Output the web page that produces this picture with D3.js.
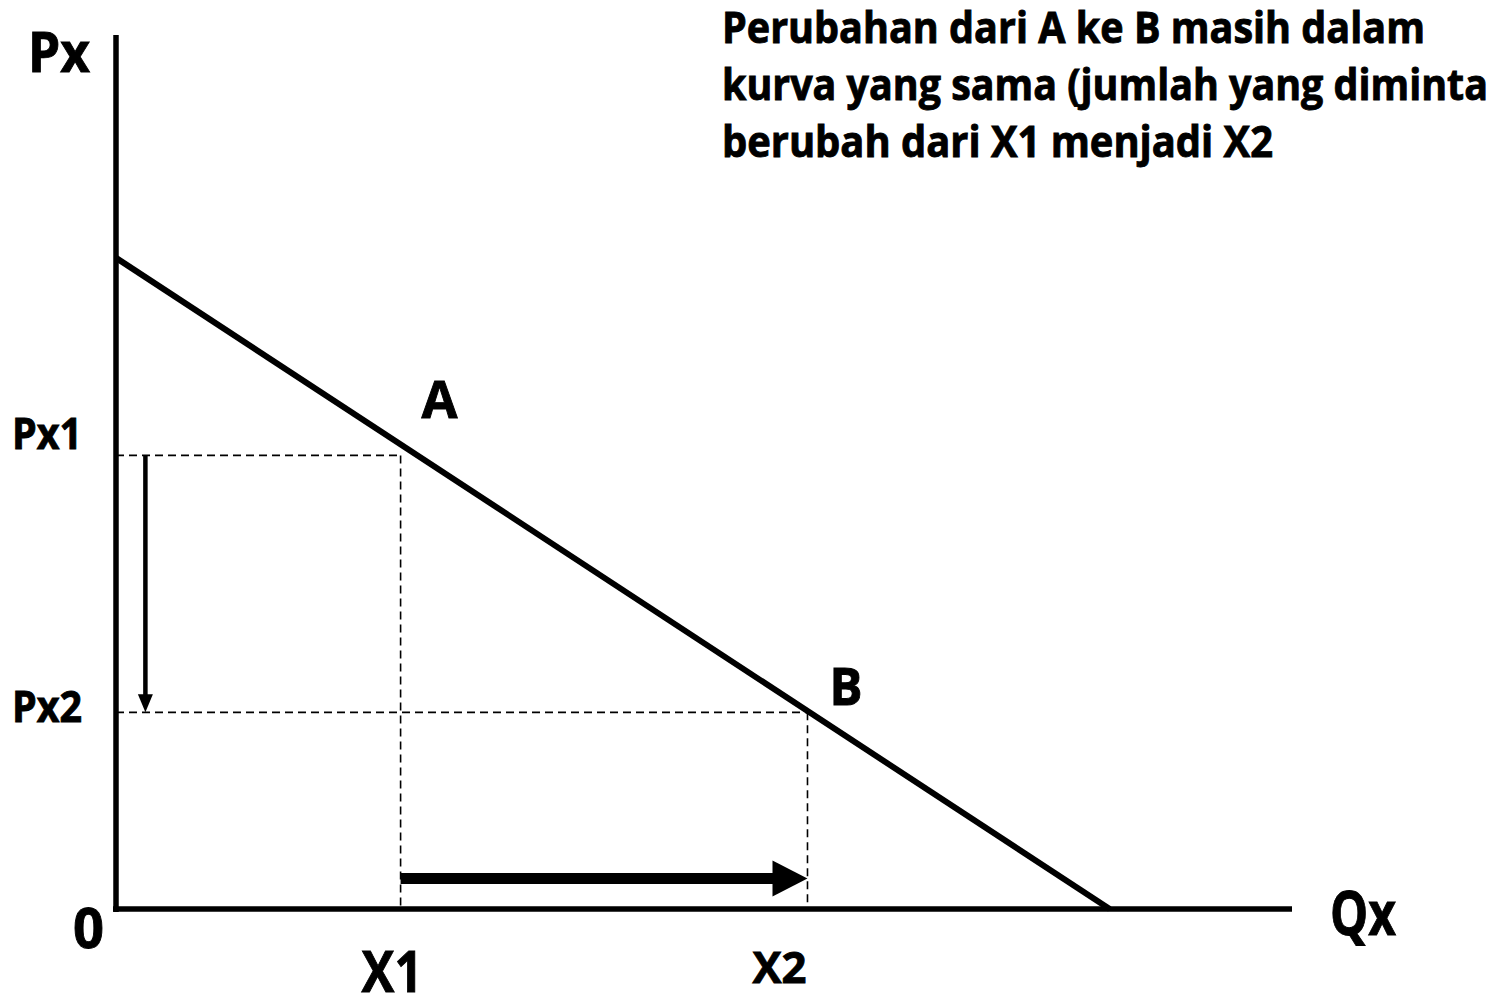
<!DOCTYPE html>
<html>
<head>
<meta charset="utf-8">
<script src="https://cdn.jsdelivr.net/npm/d3@7"></script>
<style>
  body { margin: 0; background: #fff; }
  svg text { font-family: "Open Sans", "Liberation Sans", sans-serif; font-weight: bold; fill: #000; stroke: #000; stroke-width: 0.9px; }
</style>
</head>
<body>
<div id="chart"></div>
<script>
// demand curve end points (q, p) in chart units
const demandQ = [0, 84.5];
const demandP = [74.5, 0];

// the two points on the curve
const pointNames = ["A", "B"];
const qValues = [24.2, 58.8];
const pValues = [51.9, 22.5];
const qLabels = ["X1", "X2"];
const pLabels = ["Px1", "Px2"];

const noteLines = [
  "Perubahan dari A ke B masih dalam",
  "kurva yang sama (jumlah yang diminta",
  "berubah dari X1 menjadi X2"
];

const width = 1497, height = 996;

const svg = d3.select("#chart").append("svg")
  .attr("width", width)
  .attr("height", height);

const x = d3.scaleLinear().domain([0, 100]).range([116, 1292]);
const y = d3.scaleLinear().domain([0, 100]).range([909, 35]);

// dashed guide lines
qValues.forEach(function(q, i) {
  svg.append("line")
    .attr("x1", x(0)).attr("x2", x(q))
    .attr("y1", y(pValues[i])).attr("y2", y(pValues[i]))
    .attr("stroke", "#000").attr("stroke-width", 1.6)
    .attr("stroke-dasharray", "8,5");
  svg.append("line")
    .attr("x1", x(q)).attr("x2", x(q))
    .attr("y1", y(pValues[i])).attr("y2", y(0))
    .attr("stroke", "#000").attr("stroke-width", 1.6)
    .attr("stroke-dasharray", "8,5");
});

// axes
svg.append("line")
  .attr("x1", x(0)).attr("x2", x(0))
  .attr("y1", y(100)).attr("y2", y(0) + 3)
  .attr("stroke", "#000").attr("stroke-width", 5.5);
svg.append("line")
  .attr("x1", x(0) - 3).attr("x2", x(100))
  .attr("y1", y(0)).attr("y2", y(0))
  .attr("stroke", "#000").attr("stroke-width", 5.5);

// demand curve
const line = d3.line().x(function(d) { return x(d[0]); }).y(function(d) { return y(d[1]); });
svg.append("path")
  .attr("d", line(d3.zip(demandQ, demandP)))
  .attr("fill", "none")
  .attr("stroke", "#000")
  .attr("stroke-width", 6);

// price arrow (down)
const ax = x(2.5);
const py1 = y(pValues[0]), py2 = y(pValues[1]);
svg.append("line")
  .attr("x1", ax).attr("x2", ax)
  .attr("y1", py1).attr("y2", py2 - 16)
  .attr("stroke", "#000").attr("stroke-width", 4.5);
svg.append("path")
  .attr("d", d3.line()([[ax - 7.5, py2 - 18], [ax + 7.5, py2 - 18], [ax, py2]]) + "Z")
  .attr("fill", "#000");

// quantity arrow (right)
const ay = y(3.5);
const qx1 = x(qValues[0]), qx2 = x(qValues[1]);
svg.append("line")
  .attr("x1", qx1).attr("x2", qx2 - 33)
  .attr("y1", ay).attr("y2", ay)
  .attr("stroke", "#000").attr("stroke-width", 11);
svg.append("path")
  .attr("d", d3.line()([[qx2 - 35, ay - 18], [qx2 - 35, ay + 18], [qx2, ay]]) + "Z")
  .attr("fill", "#000");

// labels
function label(t, px, py, size, len) {
  const el = svg.append("text")
    .attr("x", px).attr("y", py)
    .attr("font-size", size + "px")
    .text(t);
  if (len) el.attr("textLength", len).attr("lengthAdjust", "spacingAndGlyphs");
  return el;
}

label("Px", 28, 72, 56, 62);
label(pLabels[0], 12, 449, 43, 70);
label(pLabels[1], 12, 722, 43, 70);
label(pointNames[0], x(qValues[0]) + 21, 418, 52, 36);
label(pointNames[1], x(qValues[1]) + 22, 705, 52, 33);
label("0", 73, 948, 56, 31);
label(qLabels[0], x(qValues[0]) - 39, 992, 57, 61);
label(qLabels[1], x(qValues[1]) - 55, 983, 43, 54);
label("Qx", 1330, 935, 60, 66);

const noteWidths = [703, 766, 551];
noteLines.forEach(function(t, i) {
  label(t, 722, 43 + i * 57, 43, noteWidths[i]);
});
</script>
</body>
</html>
